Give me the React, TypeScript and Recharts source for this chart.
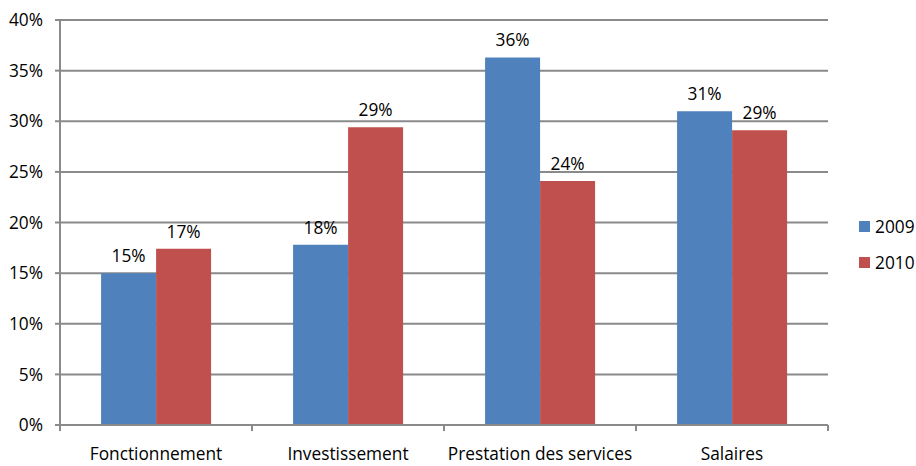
import React from 'react';
import { BarChart, Bar, XAxis, YAxis, CartesianGrid, LabelList, Legend } from 'recharts';

const categories = ['Fonctionnement', 'Investissement', 'Prestation des services', 'Salaires'];
const values2009 = [15.0, 17.8, 36.3, 31.0];
const values2010 = [17.4, 29.4, 24.1, 29.1];
const seriesNames = ['2009', '2010'];
const seriesColors = ['#4F81BD', '#C0504D'];
const yTicks = [0, 5, 10, 15, 20, 25, 30, 35, 40];

const data = categories.map((c, i) => ({ name: c, s2009: values2009[i], s2010: values2010[i] }));

const FONT = '"Open Sans", Lato, sans-serif';
const FS = 17.3;
const GRID = '#8A8A8A';
const X_TICK_SIZE = 6;
const X_TICK_MARGIN = 17;

const CatTick = (props: any) => {
  const { x, y, payload, index, visibleTicksCount } = props;
  const off = payload.offset || 0;
  const axisY = y - X_TICK_SIZE - X_TICK_MARGIN;
  return (
    <g>
      <line x1={x - off} x2={x - off} y1={axisY} y2={axisY + 6} stroke={GRID} strokeWidth={2} />
      {index === visibleTicksCount - 1 && (
        <line x1={x + off} x2={x + off} y1={axisY} y2={axisY + 6} stroke={GRID} strokeWidth={2} />
      )}
      <text x={x} y={y} dy="0.7em" textAnchor="middle" fill="#000" fontSize={FS} fontFamily={FONT}>
        {payload.value}
      </text>
    </g>
  );
};

const LegendContent = () => (
  <div style={{ fontFamily: FONT, fontSize: FS, color: '#000' }}>
    {seriesNames.map((n, i) => (
      <div key={n} style={{ display: 'flex', alignItems: 'center', height: 36 }}>
        <span style={{ display: 'inline-block', width: 11, height: 11, background: seriesColors[i], marginRight: 5 }} />
        <span>{n}</span>
      </div>
    ))}
  </div>
);

export default function App() {
  return (
    <div style={{ position: 'absolute', left: 0, top: 0, width: 916, height: 466, background: '#fff' }}>
      <BarChart
        width={916}
        height={466}
        data={data}
        margin={{ top: 20, right: 88, bottom: 0, left: 0 }}
        barCategoryGap="21.4%"
        barGap={0}
      >
        <CartesianGrid vertical={false} stroke={GRID} strokeWidth={2} />
        <YAxis
          width={60}
          domain={[0, 40]}
          ticks={yTicks}
          interval={0}
          tickFormatter={(v: number) => `${v}%`}
          axisLine={{ stroke: GRID, strokeWidth: 2 }}
          tickLine={{ stroke: GRID, strokeWidth: 2 }}
          tickSize={5}
          tickMargin={12}
          tick={{ fill: '#000', fontSize: FS, fontFamily: FONT }}
        />
        <XAxis
          dataKey="name"
          height={41}
          interval={0}
          axisLine={{ stroke: GRID, strokeWidth: 2 }}
          tickLine={false}
          tickSize={X_TICK_SIZE}
          tickMargin={X_TICK_MARGIN}
          tick={<CatTick />}
        />
        <Legend
          layout="vertical"
          align="center"
          verticalAlign="middle"
          content={<LegendContent />}
          wrapperStyle={{ left: 859, top: 208, width: 60 }}
        />
        <Bar dataKey="s2009" name={seriesNames[0]} fill={seriesColors[0]} isAnimationActive={false}>
          <LabelList dataKey="s2009" position="top" offset={11} formatter={(v: number) => `${Math.round(v)}%`} style={{ fill: '#000', fontSize: FS, fontFamily: FONT }} />
        </Bar>
        <Bar dataKey="s2010" name={seriesNames[1]} fill={seriesColors[1]} isAnimationActive={false}>
          <LabelList dataKey="s2010" position="top" offset={11} formatter={(v: number) => `${Math.round(v)}%`} style={{ fill: '#000', fontSize: FS, fontFamily: FONT }} />
        </Bar>
      </BarChart>
    </div>
  );
}
